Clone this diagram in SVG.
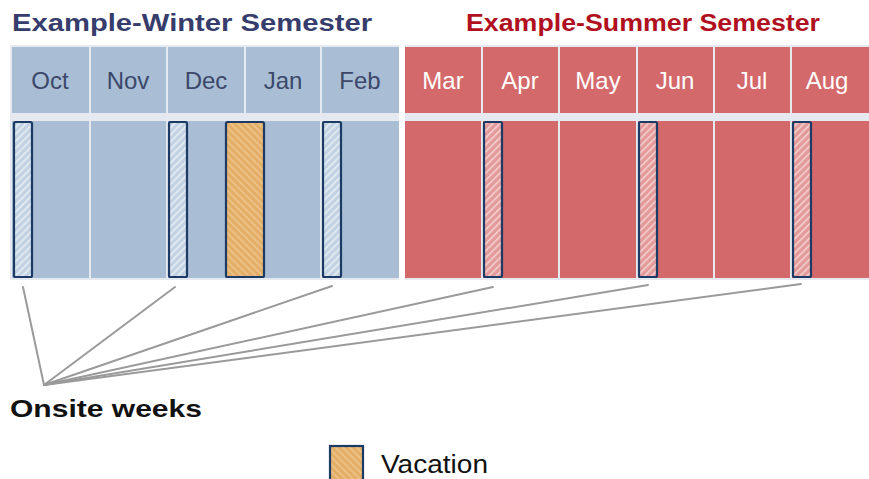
<svg xmlns="http://www.w3.org/2000/svg" width="869" height="479" viewBox="0 0 869 479">
<style>
.title{font-family:"Liberation Sans",Arial,sans-serif;font-weight:bold;font-size:23px}
.mon{font-family:"Liberation Sans",Arial,sans-serif;font-size:24px;text-anchor:middle}
.w{fill:#3b4869}
.s{fill:#ffffff}
.hb{fill:#a9bdd5}
.hr{fill:#d4696b}
.bb{fill:#a9bdd5}
.br{fill:#d4696b}
.wk{stroke:#1c3a66;stroke-width:2.2}
.conn line{stroke:#9a9a9a;stroke-width:2;stroke-linecap:round}
</style>
<defs>
<pattern id="hatchB" width="5" height="5" patternUnits="userSpaceOnUse" patternTransform="rotate(45)">
<rect width="5" height="5" fill="#c3d2e2"/><rect width="1.6" height="5" fill="#e6edf4"/>
</pattern>
<pattern id="hatchR" width="5" height="5" patternUnits="userSpaceOnUse" patternTransform="rotate(45)">
<rect width="5" height="5" fill="#e39a9a"/><rect width="1.6" height="5" fill="#f5d0d0"/>
</pattern>
<pattern id="hatchO" width="5" height="5" patternUnits="userSpaceOnUse" patternTransform="rotate(-45)">
<rect width="5" height="5" fill="#e2ae68"/><rect width="1.6" height="5" fill="#efc58c"/>
</pattern>
</defs>
<rect width="869" height="479" fill="#ffffff"/>
<rect x="10" y="45" width="859" height="235" fill="#e6eaf0"/>

<text class="title" x="12" y="31" fill="#363c6c" textLength="360" lengthAdjust="spacingAndGlyphs">Example-Winter Semester</text>
<text class="title" x="466" y="31" fill="#b01020" textLength="354" lengthAdjust="spacingAndGlyphs">Example-Summer Semester</text>

<g id="oct"><rect class="hb" x="12" y="47" width="77" height="66"/><rect class="bb" x="12" y="121" width="77" height="157"/><text class="mon w" x="50" y="89">Oct</text></g>
<g id="nov"><rect class="hb" x="91" y="47" width="75" height="66"/><rect class="bb" x="91" y="121" width="75" height="157"/><text class="mon w" x="128" y="89">Nov</text></g>
<g id="dec"><rect class="hb" x="168" y="47" width="76" height="66"/><rect class="bb" x="168" y="121" width="76" height="157"/><text class="mon w" x="206" y="89">Dec</text></g>
<g id="jan"><rect class="hb" x="246" y="47" width="74" height="66"/><rect class="bb" x="246" y="121" width="74" height="157"/><text class="mon w" x="283" y="89">Jan</text></g>
<g id="feb"><rect class="hb" x="322" y="47" width="77" height="66"/><rect class="bb" x="322" y="121" width="77" height="157"/><text class="mon w" x="360" y="89">Feb</text></g>
<rect x="399" y="45" width="6" height="235" fill="#ffffff"/>
<g id="mar"><rect class="hr" x="405" y="47" width="76" height="66"/><rect class="br" x="405" y="121" width="76" height="157"/><text class="mon s" x="443" y="89">Mar</text></g>
<g id="apr"><rect class="hr" x="483" y="47" width="75" height="66"/><rect class="br" x="483" y="121" width="75" height="157"/><text class="mon s" x="520" y="89">Apr</text></g>
<g id="may"><rect class="hr" x="560" y="47" width="76" height="66"/><rect class="br" x="560" y="121" width="76" height="157"/><text class="mon s" x="598" y="89">May</text></g>
<g id="jun"><rect class="hr" x="638" y="47" width="75" height="66"/><rect class="br" x="638" y="121" width="75" height="157"/><text class="mon s" x="675" y="89">Jun</text></g>
<g id="jul"><rect class="hr" x="715" y="47" width="75" height="66"/><rect class="br" x="715" y="121" width="75" height="157"/><text class="mon s" x="752" y="89">Jul</text></g>
<g id="aug"><rect class="hr" x="792" y="47" width="77" height="66"/><rect class="br" x="792" y="121" width="77" height="157"/><text class="mon s" x="827" y="89">Aug</text></g>

<g id="onsite-oct"><rect class="wk" x="14" y="122" width="18" height="155" rx="1.5" fill="url(#hatchB)"/></g>
<g id="onsite-dec"><rect class="wk" x="169" y="122" width="18" height="155" rx="1.5" fill="url(#hatchB)"/></g>
<g id="vacation-block"><rect class="wk" x="226" y="122" width="38" height="155" rx="1.5" fill="url(#hatchO)"/></g>
<g id="onsite-feb"><rect class="wk" x="323" y="122" width="18" height="155" rx="1.5" fill="url(#hatchB)"/></g>
<g id="onsite-apr"><rect class="wk" x="484" y="122" width="18" height="155" rx="1.5" fill="url(#hatchR)"/></g>
<g id="onsite-jun"><rect class="wk" x="639" y="122" width="18" height="155" rx="1.5" fill="url(#hatchR)"/></g>
<g id="onsite-aug"><rect class="wk" x="793" y="122" width="18" height="155" rx="1.5" fill="url(#hatchR)"/></g>

<g id="connectors" class="conn">
<line x1="44" y1="385" x2="23" y2="287"/>
<line x1="44" y1="385" x2="175" y2="287"/>
<line x1="44" y1="385" x2="332" y2="286"/>
<line x1="44" y1="385" x2="493" y2="287"/>
<line x1="44" y1="385" x2="648" y2="285"/>
<line x1="44" y1="385" x2="801" y2="284"/>
</g>

<g id="onsite-label"><text x="10" y="417" font-family="Liberation Sans, Arial, sans-serif" font-weight="bold" font-size="24" fill="#111111" textLength="192" lengthAdjust="spacingAndGlyphs">Onsite weeks</text></g>

<g id="legend">
<rect class="wk" x="330" y="446" width="33" height="36" fill="url(#hatchO)"/>
<text x="381" y="473" font-family="Liberation Sans, Arial, sans-serif" font-size="25" fill="#111111" textLength="107" lengthAdjust="spacingAndGlyphs">Vacation</text>
</g>
</svg>
